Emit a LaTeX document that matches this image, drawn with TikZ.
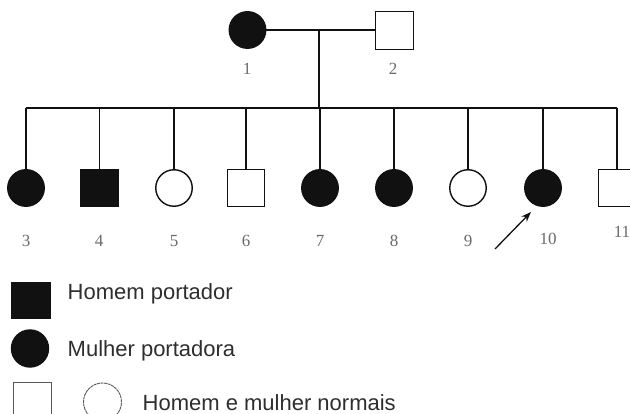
\documentclass[tikz,border=0pt]{standalone}
\usepackage{fontspec}
\setmainfont{Liberation Serif}
\newfontfamily\legendfont{Liberation Sans}
\usetikzlibrary{arrows.meta}
\definecolor{ink}{HTML}{111111}
\definecolor{numgray}{HTML}{6A6A6A}
\definecolor{legendgray}{HTML}{2E2E2E}
\begin{document}
\begin{tikzpicture}[x=1pt,y=-1pt,
  line width=1.4pt,
  fem/.style={circle,draw=ink,minimum size=36.5pt,inner sep=0pt},
  mal/.style={rectangle,draw=ink,minimum size=37.5pt,inner sep=0pt},
  aff/.style={fill=ink},
  num/.style={text=numgray,font=\fontsize{17}{19}\selectfont,inner sep=0pt},
  leg/.style={text=legendgray,font=\legendfont\fontsize{22}{24}\selectfont,inner sep=0pt,anchor=base west},
  conn/.style={draw=ink,line width=1.4pt}]
\clip (0,0) rectangle (630,414);
\fill[white] (0,0) rectangle (630,414);
% parents
\node[fem,aff] (p1) at (247.5,30) {};
\node[mal] (p2) at (394.5,30.5) {};
\node[num] (l1) at (247,69) {1};
\node[num] (l2) at (393,69) {2};
\coordinate (m) at (319,30);
\coordinate (s) at (319,108);
\draw[conn] (p1.east |- m) -- (p2.west |- m);
\draw[conn] (m) -- (s);
% children
\node[fem,aff] (c3) at (26,188) {};
\node[mal,aff] (c4) at (99.5,188) {};
\node[fem] (c5) at (174,188) {};
\node[mal] (c6) at (246,188) {};
\node[fem,aff] (c7) at (320,188) {};
\node[fem,aff] (c8) at (394,188) {};
\node[fem] (c9) at (468,188) {};
\node[fem,aff] (c10) at (543,188) {};
\node[mal] (c11) at (617,188) {};
\draw[conn] (c3.north |- s) -- (c11.north |- s);
\foreach \c in {c3,c4,c5,c6,c7,c8,c9,c10,c11}
  \draw[conn] (\c.north |- s) -- (\c.north);
\node[num] (l3) at (26,241) {3};
\node[num] (l4) at (99,241) {4};
\node[num] (l5) at (174,241) {5};
\node[num] (l6) at (246,241) {6};
\node[num] (l7) at (320,241) {7};
\node[num] (l8) at (394,241) {8};
\node[num] (l9) at (468,241) {9};
\node[num] (l10) at (548,239) {10};
\node[num] (l11) at (622,232) {11};
% proband arrow
\coordinate (a0) at (495,249);
\coordinate (a1) at (531,212);
\draw[conn,line width=1.3pt,-{Stealth[length=10pt,width=7.5pt]}] (a0) -- (a1);
% legend
\node[mal,aff,minimum width=38pt,minimum height=35pt] (k1) at (31,300.5) {};
\node[leg] (t1) at (67,300) {Homem portador};
\node[fem,aff,minimum size=37pt] (k2) at (30,348.5) {};
\node[leg] (t2) at (67,357) {Mulher portadora};
\node[mal,draw=ink!70,line width=0.9pt,minimum width=38pt,minimum height=38pt] (k3) at (32,401) {};
\node[fem,draw=ink!70,line width=0.9pt,dash pattern=on 3pt off 0.6pt,minimum size=38pt] (k4) at (102.5,402) {};
\node[leg] (t3) at (142,410) {Homem e mulher normais};
\end{tikzpicture}
\end{document}
